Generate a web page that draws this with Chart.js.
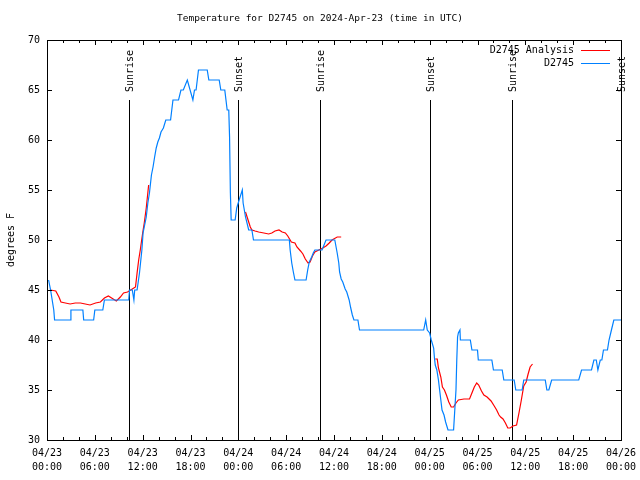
<!DOCTYPE html>
<html>
<head>
<meta charset="utf-8">
<title>Temperature for D2745</title>
<script src="https://cdn.jsdelivr.net/npm/chart.js@4.4.0/dist/chart.umd.min.js"></script>
<style>
  html, body { margin: 0; padding: 0; background: #fff; }
  #chart { display: block; }
</style>
</head>
<body>
<canvas id="chart" width="640" height="480"></canvas>
<script>
// x values are hours after 04/23 00:00 UTC
const obsHours = [0.2, 0.45, 0.85, 0.95, 2.9, 3.0, 4.5, 4.6, 5.85, 6.0, 7.0, 7.2, 10.25, 10.35, 10.7, 10.9, 11.0, 11.3,
  11.6, 11.9, 12.05, 12.45, 12.65, 12.85, 13.1, 13.3, 13.5, 13.7, 13.9, 14.1, 14.3, 14.6, 14.9, 15.5, 15.8, 16.5,
  16.8, 17.1, 17.6, 18.3, 18.5, 18.7, 19.0, 20.1, 20.3, 21.6, 21.8, 22.3, 22.45, 22.6, 22.8, 22.9, 23.0, 23.1,
  23.6, 23.8, 24.1, 24.5, 24.6, 24.9, 25.3, 25.7, 25.9, 30.4, 30.5, 30.7, 30.9, 31.1, 32.5, 32.7, 32.9, 33.2,
  33.4, 33.6, 34.5, 35.0, 36.1, 36.4, 36.6, 36.7, 36.9, 37.1, 37.4, 37.6, 37.9, 38.1, 38.3, 38.5, 39.0, 39.2,
  47.25, 47.5, 47.7, 48.0, 48.2, 48.5, 48.6, 48.7, 48.9, 49.1, 49.25, 49.4, 49.55, 49.8, 50.0, 50.3, 51.0, 51.15,
  51.3, 51.4, 51.5, 51.6, 51.8, 51.85, 53.1, 53.3, 54.0, 54.1, 55.8, 56.0, 57.1, 57.3, 58.6, 58.8, 59.6, 59.8,
  62.5, 62.7, 62.95, 63.3, 66.7, 67.05, 68.3, 68.6, 68.9, 69.1, 69.4, 69.6, 69.8, 70.3, 70.5, 70.8, 71.1, 72.0];
const obsTemps = [46, 45, 43, 42, 42, 43, 43, 42, 42, 43, 43, 44, 44, 45, 45, 44, 45, 45,
  46.7, 49, 50.7, 52.3, 53.7, 54.7, 56.5, 57.3, 58.3, 59.2, 59.8, 60.2, 60.8, 61.2, 62, 62, 64, 64,
  65, 65, 66, 64, 65, 65, 67, 67, 66, 66, 65, 65, 64, 63, 63, 60.3, 54.8, 52,
  52, 53.2, 54, 55, 53.7, 52.3, 51, 51, 50, 50, 49, 47.7, 46.8, 46, 46, 47, 47.8, 48.3,
  48.7, 49, 49, 50, 50, 48.7, 47.7, 46.8, 46.1, 45.8, 45.1, 44.8, 44, 43.2, 42.5, 42, 42, 41,
  41, 42, 41, 40.7, 40, 39.2, 38.2, 37.5, 37, 36, 35, 34, 33, 32.5, 31.8, 31, 31, 33,
  35, 38, 40.3, 40.7, 41, 40, 40, 39, 39, 38, 38, 37, 37, 36, 36, 35, 35, 36,
  36, 35, 35, 36, 36, 37, 37, 38, 38, 37, 38, 38, 39, 39, 40, 41, 42, 42];

// analysis series, null marks a break in the line
const anaHours = [0.4, 1.1, 1.5, 1.75, 2.3, 2.9, 3.55, 4.2, 4.8, 5.4, 6.1, 6.7, 7.2, 7.7, 8.1, 8.7, 9.2, 9.6, 10.1,
  10.7, 11.1, 11.3, 11.5, 11.7, 12.0, 12.2, 12.45, 12.75, 18,
  24.9, 25.1, 25.3, 25.5, 25.7, 26.1, 26.55, 27.2, 27.8, 28.2, 28.6, 29.1, 29.5, 29.9, 30.2, 30.65, 31.1, 31.35,
  31.8, 32.1, 32.4, 32.75, 33.0, 33.3, 33.6, 34.1, 34.6, 35.0, 35.4, 35.75, 36.4, 36.9, 42,
  48.7, 48.95, 49.1, 49.4, 49.6, 49.85, 50.1, 50.4, 50.7, 51.0, 51.3, 51.6, 52.3, 53.0, 53.3, 53.6, 53.9, 54.15,
  54.5, 54.8, 55.2, 55.7, 56.1, 56.4, 56.7, 56.9, 57.2, 57.5, 57.8, 58.1, 58.45, 58.9, 59.2, 59.5, 59.8, 60.1,
  60.35, 60.6, 60.9];
const anaTemps = [45.0, 44.9, 44.3, 43.8, 43.7, 43.6, 43.7, 43.7, 43.6, 43.5, 43.7, 43.8, 44.2, 44.4, 44.2, 43.9, 44.3, 44.7, 44.8,
  45.1, 45.3, 46.7, 48, 49, 50.7, 51.7, 53.2, 55.5, null,
  52.8, 52.3, 51.8, 51.3, 51.0, 50.9, 50.8, 50.7, 50.6, 50.7, 50.9, 51.0, 50.8, 50.7, 50.4, 49.8, 49.7, 49.3,
  48.9, 48.6, 48.1, 47.7, 47.8, 48.4, 48.8, 49.0, 49.2, 49.4, 49.7, 50.0, 50.3, 50.3, null,
  38.1, 38.1, 37.2, 36.3, 35.3, 35.0, 34.5, 33.8, 33.3, 33.3, 33.7, 34.0, 34.1, 34.1, 34.7, 35.3, 35.7, 35.5,
  34.9, 34.5, 34.3, 33.9, 33.4, 33.0, 32.5, 32.3, 32.1, 31.7, 31.2, 31.2, 31.4, 31.5, 32.7, 34.0, 35.4, 35.8,
  36.6, 37.3, 37.6];

const sunHours = [10.25, 23.9, 34.3, 48.0, 58.3, 72.0];
const sunLabels = ['Sunrise', 'Sunset', 'Sunrise', 'Sunset', 'Sunrise', 'Sunset'];

const xTickHours = [0, 6, 12, 18, 24, 30, 36, 42, 48, 54, 60, 66, 72];
const xTickDates = ['04/23', '04/23', '04/23', '04/23', '04/24', '04/24', '04/24', '04/24', '04/25', '04/25', '04/25', '04/25', '04/26'];
const xTickTimes = ['00:00', '06:00', '12:00', '18:00', '00:00', '06:00', '12:00', '18:00', '00:00', '06:00', '12:00', '18:00', '00:00'];
const yTicks = [30, 35, 40, 45, 50, 55, 60, 65, 70];

const FONT = '10px "DejaVu Sans Mono", monospace';

// gnuplot look: frame, inward ticks, sun lines, legend, title
const gnuplotDecor = {
  id: 'gnuplotDecor',
  beforeDatasetsDraw(chart) {
    const ctx = chart.ctx;
    const { top, bottom } = chart.chartArea;
    const xs = chart.scales.x;
    ctx.save();
    ctx.strokeStyle = '#000';
    ctx.fillStyle = '#000';
    ctx.lineWidth = 1;
    ctx.font = FONT;
    sunHours.forEach((h, i) => {
      const px = Math.round(xs.getPixelForValue(h)) + 0.5;
      ctx.beginPath();
      ctx.moveTo(px, top + 60);
      ctx.lineTo(px, bottom);
      ctx.stroke();
      ctx.save();
      ctx.translate(px + 1, top + 52);
      ctx.rotate(-Math.PI / 2);
      ctx.textAlign = 'left';
      ctx.textBaseline = 'middle';
      ctx.fillText(sunLabels[i], 0, 0);
      ctx.restore();
    });
    ctx.restore();
  },
  afterDatasetsDraw(chart) {
    const ctx = chart.ctx;
    const { left, right, top, bottom } = chart.chartArea;
    const xs = chart.scales.x;
    const ys = chart.scales.y;
    ctx.save();
    ctx.strokeStyle = '#000';
    ctx.fillStyle = '#000';
    ctx.lineWidth = 1;
    ctx.font = FONT;

    // frame
    ctx.strokeRect(Math.round(left) + 0.5, Math.round(top) + 0.5, Math.round(right - left), Math.round(bottom - top));

    // x ticks, major every 6h, minor every 2h
    ctx.beginPath();
    for (let h = 0; h <= 72; h += 2) {
      const px = Math.round(xs.getPixelForValue(h)) + 0.5;
      const len = h % 6 === 0 ? 5 : 3;
      ctx.moveTo(px, bottom); ctx.lineTo(px, bottom - len);
      ctx.moveTo(px, top); ctx.lineTo(px, top + len);
    }
    yTicks.forEach(v => {
      const py = Math.round(ys.getPixelForValue(v)) + 0.5;
      ctx.moveTo(left, py); ctx.lineTo(left + 5, py);
      ctx.moveTo(right, py); ctx.lineTo(right - 5, py);
    });
    ctx.stroke();

    // tick labels
    ctx.textAlign = 'center';
    ctx.textBaseline = 'middle';
    xTickHours.forEach((h, i) => {
      const px = xs.getPixelForValue(h);
      ctx.fillText(xTickDates[i], px, bottom + 13);
      ctx.fillText(xTickTimes[i], px, bottom + 27);
    });
    ctx.textAlign = 'right';
    yTicks.forEach(v => {
      ctx.fillText(String(v), left - 7, ys.getPixelForValue(v));
    });

    // axis title
    ctx.save();
    ctx.translate(11, (top + bottom) / 2);
    ctx.rotate(-Math.PI / 2);
    ctx.textAlign = 'center';
    ctx.fillText('degrees F', 0, 0);
    ctx.restore();

    // legend
    const ds = chart.data.datasets;
    const rows = [ds[1], ds[0]];
    rows.forEach((d, i) => {
      const y = top + 10 + i * 13;
      ctx.textAlign = 'right';
      ctx.fillStyle = '#000';
      ctx.fillText(d.label, right - 47, y);
      ctx.strokeStyle = d.borderColor;
      ctx.beginPath();
      ctx.moveTo(right - 40, Math.round(y) + 0.5);
      ctx.lineTo(right - 11, Math.round(y) + 0.5);
      ctx.stroke();
    });

    // title
    ctx.fillStyle = '#000';
    ctx.textAlign = 'center';
    ctx.font = '9.5px "DejaVu Sans Mono", monospace';
    ctx.fillText('Temperature for D2745 on 2024-Apr-23 (time in UTC)', 320, 19);
    ctx.restore();
  }
};

new Chart(document.getElementById('chart'), {
  type: 'line',
  data: {
    datasets: [{
      label: 'D2745',
      data: obsHours.map((h, i) => ({ x: h, y: obsTemps[i] })),
      borderColor: '#0080ff',
      borderWidth: 1.2,
      pointRadius: 0,
      tension: 0
    }, {
      label: 'D2745 Analysis',
      data: anaHours.map((h, i) => ({ x: h, y: anaTemps[i] })),
      borderColor: '#ff0000',
      borderWidth: 1.2,
      pointRadius: 0,
      tension: 0,
      spanGaps: false
    }]
  },
  options: {
    responsive: false,
    animation: false,
    layout: { padding: { left: 47, right: 19, top: 40, bottom: 40 } },
    plugins: {
      legend: { display: false },
      tooltip: { enabled: false },
      title: { display: false }
    },
    scales: {
      x: { type: 'linear', min: 0, max: 72, display: false },
      y: { type: 'linear', min: 30, max: 70, display: false }
    }
  },
  plugins: [gnuplotDecor]
});
</script>
</body>
</html>
